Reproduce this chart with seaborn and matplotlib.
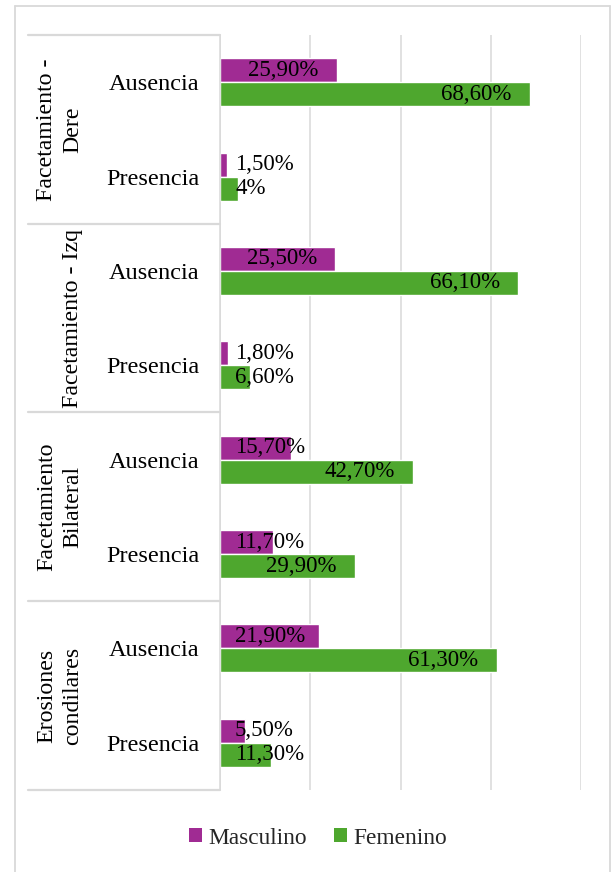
import matplotlib
matplotlib.use("Agg")
import matplotlib.pyplot as plt
import seaborn as sns
import pandas as pd
from matplotlib.lines import Line2D
from matplotlib.patches import Patch
import matplotlib.transforms as mtransforms

# ---- data ----
groups = ["Facetamiento -\nDere", "Facetamiento - Izq", "Facetamiento\nBilateral", "Erosiones\ncondilares"]
levels = ["Ausencia", "Presencia"]
masculino = [25.9, 1.5, 25.5, 1.8, 15.7, 11.7, 21.9, 5.5]
femenino = [68.6, 4.0, 66.1, 6.6, 42.7, 29.9, 61.3, 11.3]
series = ["Masculino", "Femenino"]
colors = {"Masculino": "#A02B93", "Femenino": "#4EA72E"}
xticks = [0, 20, 40, 60, 80]

cats = [f"{g}|{l}" for g in groups for l in levels]
rows = []
for c, m, f in zip(cats, masculino, femenino):
    rows.append({"cat": c, "serie": "Masculino", "val": m})
    rows.append({"cat": c, "serie": "Femenino", "val": f})
df = pd.DataFrame(rows)

sns.set_theme(style="white")
plt.rcParams["font.family"] = ["Liberation Serif", "DejaVu Serif"]
FS_DATA = 16.5
FS_CAT = 17.5
FS_GRP = 17.2
FS_LEG = 16.8

W, H = 611, 872
fig = plt.figure(figsize=(W / 100, H / 100), dpi=100)
ax = fig.add_axes([220 / W, 1 - 790 / H, (581 - 220) / W, (790 - 35) / H])

sns.barplot(data=df, y="cat", x="val", hue="serie", order=cats, hue_order=series,
            palette=colors, orient="h", width=0.508, gap=0, dodge=True,
            legend=False, ax=ax, saturation=1, errorbar=None)

ax.set_xlim(0, 80)
ax.set_ylim(len(cats) - 0.5, -0.5)
ax.set_xticks(xticks)
ax.set_xticklabels([])
ax.set_xlabel("")
ax.set_ylabel("")
ax.xaxis.grid(True, color="#d9d9d9", linewidth=1.1)
ax.yaxis.grid(False)
ax.set_axisbelow(True)
for s in ["top", "right", "bottom"]:
    ax.spines[s].set_visible(False)
ax.spines["left"].set_color("#d9d9d9")
ax.spines["left"].set_linewidth(1.1)
ax.tick_params(axis="both", length=0)
ax.tick_params(axis="y", pad=14.5)
ax.set_yticks(range(len(cats)))
ax.set_yticklabels([c.split("|")[1] for c in cats], fontsize=FS_CAT, color="black")

# table lines
trans = mtransforms.blended_transform_factory(ax.transAxes, ax.transData)
x0 = (28 - 220) / (581 - 220)
for yb in [-0.5, 1.5, 3.5, 5.5, 7.5]:
    ax.add_line(Line2D([x0, 0], [yb, yb], transform=trans, color="#d9d9d9",
                       lw=1.6, clip_on=False))

# group labels
xg = (83 - 220) / (581 - 220)
for i, g in enumerate(groups):
    ax.text(xg, 2 * i + 0.5, g, transform=trans, rotation=90, ha="right", va="center",
            multialignment="center", fontsize=FS_GRP, linespacing=1.32, color="black")

# data labels
def fmt(v):
    if float(v).is_integer():
        return f"{int(v)}%"
    return f"{v:.2f}%".replace(".", ",")

fig.canvas.draw()
renderer = fig.canvas.get_renderer()
ax_left_px = ax.transData.transform((0, 0))[0]
for cont in ax.containers:
    for bar, v in zip(cont.patches, cont.datavalues):
        yc = bar.get_y() + bar.get_height() / 2
        t = ax.annotate(fmt(v), xy=(v, yc), xycoords="data", xytext=(-18, 0),
                        textcoords="offset pixels", ha="right", va="center",
                        fontsize=FS_DATA, color="black", annotation_clip=False)
        bb = t.get_window_extent(renderer)
        if bb.x0 < ax_left_px + 15:
            t.remove()
            ax.annotate(fmt(v), xy=(0, yc), xycoords="data", xytext=(15, 0),
                        textcoords="offset pixels", ha="left", va="center",
                        fontsize=FS_DATA, color="black", annotation_clip=False)

# legend
handles = [Patch(facecolor=colors[s], edgecolor="none", label=s) for s in series]
fig.legend(handles=handles, loc="center", bbox_to_anchor=(318 / W, 1 - 838 / H),
           ncol=2, frameon=False, fontsize=FS_LEG, handlelength=0.55, handleheight=0.55,
           handletextpad=0.28, columnspacing=1.15)

# outer frame
fig.add_artist(Line2D([14.5 / W, 14.5 / W], [0, 1 - 6.5 / H], transform=fig.transFigure,
                      color="#d9d9d9", lw=1.3))
fig.add_artist(Line2D([14.5 / W, 610 / W], [1 - 6.5 / H, 1 - 6.5 / H], transform=fig.transFigure,
                      color="#d9d9d9", lw=1.3))
fig.add_artist(Line2D([610 / W, 610 / W], [0, 1 - 6.5 / H], transform=fig.transFigure,
                      color="#d9d9d9", lw=1.3))

fig.savefig("out.png", dpi=100, facecolor="white")
